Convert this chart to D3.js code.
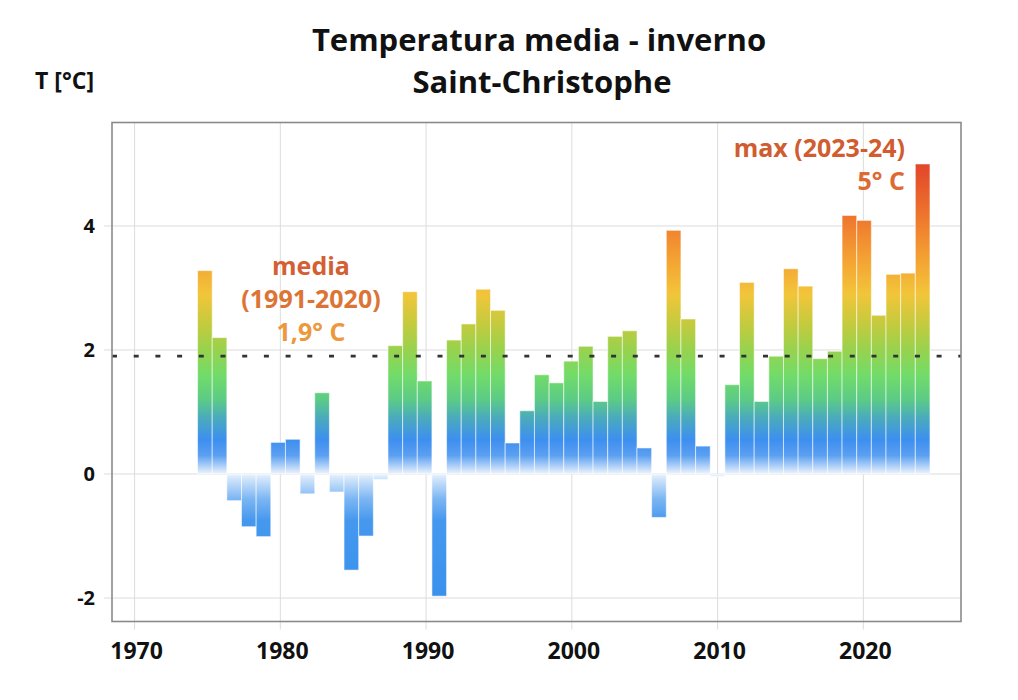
<!DOCTYPE html>
<html>
<head>
<meta charset="utf-8">
<script src="https://cdn.jsdelivr.net/npm/d3@7"></script>
<style>
  html, body { margin: 0; padding: 0; background: #fff; }
  svg { display: block; font-family: "Open Sans", "Noto Sans", sans-serif; }
</style>
</head>
<body>
<svg id="chart" width="1018" height="700"></svg>
<script>
// ---- Data ----
const years = d3.range(1975, 2025);
const temps = [
  3.28, 2.20, -0.43, -0.85, -1.01, 0.51, 0.56, -0.32, 1.31, -0.29,
  -1.55, -1.00, -0.09, 2.07, 2.94, 1.50, -1.97, 2.16, 2.42, 2.98,
  2.64, 0.50, 1.02, 1.60, 1.47, 1.82, 2.06, 1.17, 2.22, 2.31,
  0.42, -0.70, 3.93, 2.50, 0.45, -0.04, 1.44, 3.09, 1.17, 1.90,
  3.31, 3.03, 1.86, 1.98, 4.17, 4.09, 2.56, 3.22, 3.24, 5.00
];
const xTicks = [1970, 1980, 1990, 2000, 2010, 2020];
const yTicks = [-2, 0, 2, 4];
const meanValue = 1.9;
const titleLines = ["Temperatura media - inverno", "Saint-Christophe"];
const yAxisLabel = "T [°C]";
const meanLabel = ["media", "(1991-2020)", "1,9° C"];
const maxLabel = ["max (2023-24)", "5° C"];

// ---- Layout ----
const svg = d3.select("#chart");
const plot = { left: 112, right: 961, top: 122.5, bottom: 621.5 };

const x = d3.scaleLinear().domain([1968.45, 2026.7]).range([plot.left, plot.right]);
const y = d3.scaleLinear().domain([-2.379, 5.669]).range([plot.bottom, plot.top]);
const band = d3.scaleBand().domain(years).range([x(1974.32), x(2024.57)]).paddingInner(0);

// ---- Gradient ----
const defs = svg.append("defs");
const grad = defs.append("linearGradient")
  .attr("id", "barGrad")
  .attr("gradientUnits", "userSpaceOnUse")
  .attr("x1", 0).attr("x2", 0)
  .attr("y1", y(5)).attr("y2", y(-2));
const stops = [
  [5.0, "#e2462a"], [4.4, "#ea672c"], [4.0, "#f0802f"], [3.4, "#f4a634"],
  [2.9, "#f2c53a"], [2.4, "#c2cb3e"], [2.0, "#98d24e"], [1.6, "#72dc68"],
  [1.2, "#5ccb86"], [0.9, "#4aaabd"], [0.55, "#3d8ff0"], [0.3, "#5b9ff1"],
  [0.06, "#cfe3fa"], [0.0, "#eef5fd"], [-0.05, "#d8e9fb"], [-0.4, "#7cb6f3"],
  [-0.75, "#4598ee"], [-2.0, "#3a91ec"]
];
stops.forEach(([v, c]) => {
  grad.append("stop")
    .attr("offset", (y(v) - y(5)) / (y(-2) - y(5)))
    .attr("stop-color", c);
});

// ---- Grid ----
const grid = svg.append("g");
grid.selectAll("line.gx").data(xTicks).join("line")
  .attr("x1", d => x(d)).attr("x2", d => x(d))
  .attr("y1", plot.top).attr("y2", plot.bottom + 8)
  .attr("stroke", "#dcdcdc").attr("stroke-width", 1);
grid.selectAll("line.gy").data(yTicks).join("line")
  .attr("x1", plot.left - 8).attr("x2", plot.right)
  .attr("y1", d => y(d)).attr("y2", d => y(d))
  .attr("stroke", "#dcdcdc").attr("stroke-width", 1);

// ---- Bars ----
svg.append("g").selectAll("rect").data(years).join("rect")
  .attr("x", d => band(d))
  .attr("width", band.bandwidth())
  .attr("y", (d, i) => y(Math.max(0, temps[i])))
  .attr("height", (d, i) => Math.abs(y(temps[i]) - y(0)))
  .attr("fill", "url(#barGrad)")
  .attr("stroke", "rgba(255,255,255,0.55)")
  .attr("stroke-width", 1);

// ---- Mean line ----
svg.append("line")
  .attr("x1", plot.left).attr("x2", plot.right)
  .attr("y1", y(meanValue)).attr("y2", y(meanValue))
  .attr("stroke", "#333").attr("stroke-width", 2.8)
  .attr("stroke-dasharray", "5,16.7");

// ---- Frame ----
svg.append("rect")
  .attr("x", plot.left).attr("y", plot.top)
  .attr("width", plot.right - plot.left).attr("height", plot.bottom - plot.top)
  .attr("fill", "none").attr("stroke", "#8a8a8a").attr("stroke-width", 1.6);

// ---- Axes labels ----
svg.append("g").selectAll("text").data(xTicks).join("text")
  .attr("x", d => x(d) + 2).attr("y", 659)
  .attr("text-anchor", "middle")
  .attr("font-size", 23).attr("font-weight", 700).attr("fill", "#111")
  .text(d => d);
svg.append("g").selectAll("text").data(yTicks).join("text")
  .attr("x", 95).attr("y", d => y(d) + 7)
  .attr("text-anchor", "end")
  .attr("font-size", 20).attr("font-weight", 700).attr("fill", "#111")
  .text(d => d);

// ---- Titles ----
svg.append("text").attr("x", 539).attr("y", 51)
  .attr("text-anchor", "middle").attr("font-size", 31).attr("font-weight", 700).attr("fill", "#111")
  .text(titleLines[0]);
svg.append("text").attr("x", 542).attr("y", 93)
  .attr("text-anchor", "middle").attr("font-size", 31).attr("font-weight", 700).attr("fill", "#111")
  .text(titleLines[1]);
svg.append("text").attr("x", 35).attr("y", 89)
  .attr("font-size", 23).attr("font-weight", 700).attr("fill", "#111")
  .text(yAxisLabel);

// ---- Annotations ----
const meanColors = ["#d45f35", "#dc7436", "#ec983c"];
svg.append("g").selectAll("text").data(meanLabel).join("text")
  .attr("x", 311).attr("y", (d, i) => 275 + i * 33)
  .attr("text-anchor", "middle")
  .attr("font-size", 25).attr("font-weight", 700)
  .attr("fill", (d, i) => meanColors[i])
  .text(d => d);
const maxColors = ["#d05c30", "#dc6a32"];
svg.append("g").selectAll("text").data(maxLabel).join("text")
  .attr("x", 905).attr("y", (d, i) => 157 + i * 33)
  .attr("text-anchor", "end")
  .attr("font-size", 25).attr("font-weight", 700)
  .attr("fill", (d, i) => maxColors[i])
  .text(d => d);
</script>
</body>
</html>
